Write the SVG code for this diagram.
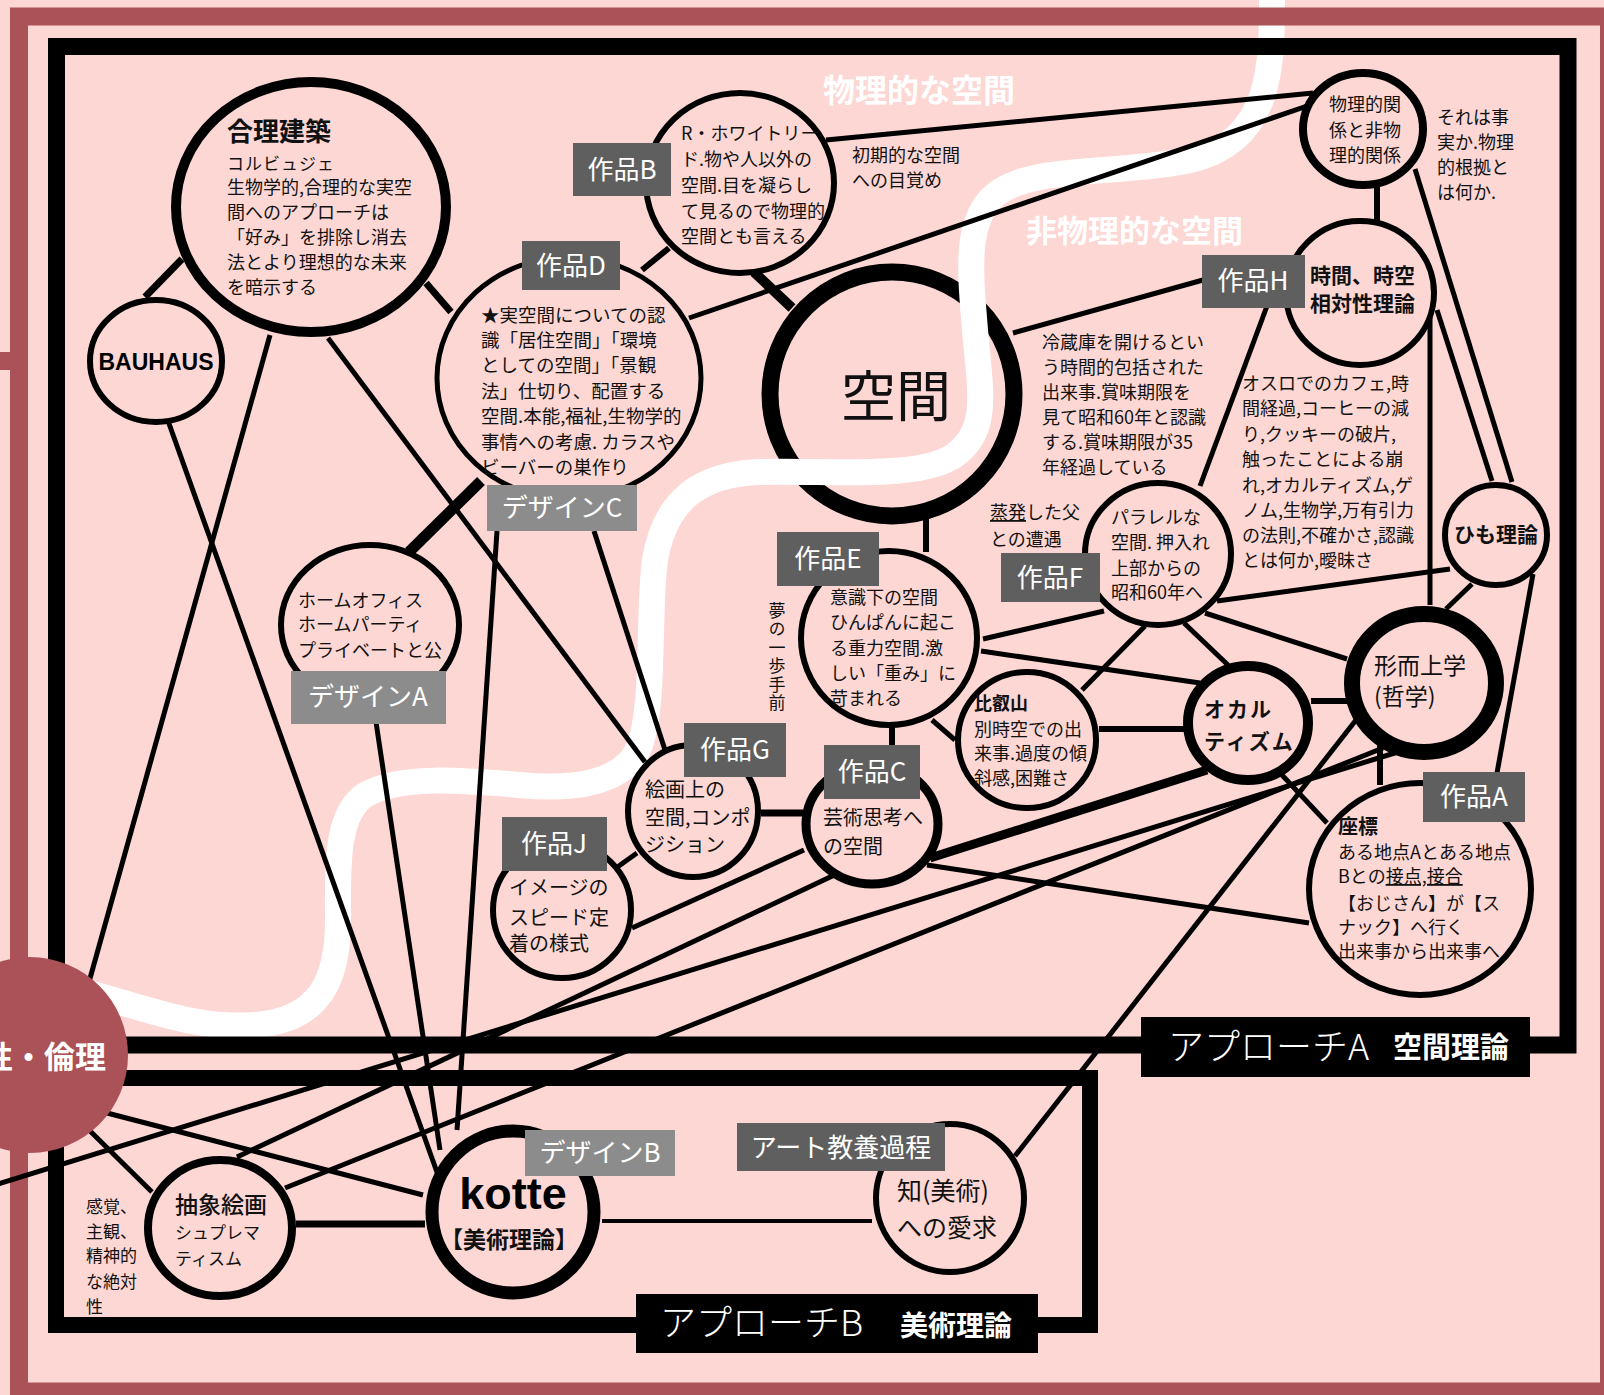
<svg xmlns="http://www.w3.org/2000/svg" width="1604" height="1395" viewBox="0 0 1604 1395">
<style>
.n{fill:#FDD7D3;stroke:#000}
.t{font-family:"Noto Sans CJK JP","Noto Sans",sans-serif;font-size:18px;fill:#111}
.b{font-weight:bold}
.lk rect{fill:#5f5f5f}
.lg rect{fill:#8c8c8c}
.lt{font-family:"Noto Sans CJK JP","Noto Sans",sans-serif;font-size:26px;fill:#fff;text-anchor:middle}
.w{font-family:"Noto Sans CJK JP",sans-serif;font-weight:bold;font-size:32px;fill:#fff}
#connectors line{stroke:#000;stroke-width:5}
.u{text-decoration:underline}
</style>
<rect width="1604" height="1395" fill="#FDD7D3"/>
<g id="n-kukan">
<circle class="n" cx="892" cy="394" r="122" stroke-width="17"/>
</g>
<path d="M1272,-10 C1272,60 1275,140 1190,160 C1120,175 1030,165 995,195 C965,220 970,270 975,330 C980,390 990,430 955,455 C920,480 830,470 760,472 C700,474 665,500 655,560 C648,610 655,700 640,745 C625,785 570,790 520,785 C460,780 400,775 365,795 C335,815 338,870 338,920 C338,980 320,1020 255,1025 C190,1030 140,1005 60,985" fill="none" stroke="#fff" stroke-width="26"/>
<rect x="19" y="16.5" width="1590" height="1375" fill="none" stroke="#AA5257" stroke-width="18"/>
<rect x="0" y="352" width="14" height="18" fill="#AA5257"/>
<rect x="56.5" y="46.5" width="1511.5" height="998.5" fill="none" stroke="#000" stroke-width="17"/>
<rect x="56" y="1078" width="1034" height="247" fill="none" stroke="#000" stroke-width="16"/>
<text class="w" x="823" y="102">物理的な空間</text>
<text class="w" x="1026" y="242" style="font-size:31px">非物理的な空間</text>
<g id="connectors">
<line x1="182" y1="259" x2="145" y2="297" style="stroke-width:7"/>
<line x1="426" y1="283" x2="451" y2="312" style="stroke-width:7"/>
<line x1="270" y1="335" x2="89" y2="982"/>
<line x1="328" y1="338" x2="645" y2="762"/>
<line x1="167" y1="418" x2="438" y2="1175"/>
<line x1="642" y1="270" x2="669" y2="248" style="stroke-width:6"/>
<line x1="689" y1="318" x2="1313" y2="104"/>
<line x1="826" y1="140" x2="1313" y2="93"/>
<line x1="754" y1="272" x2="792" y2="308" style="stroke-width:10"/>
<line x1="1013" y1="333" x2="1203" y2="280"/>
<line x1="1377" y1="186" x2="1377" y2="222" style="stroke-width:6"/>
<line x1="1415" y1="169" x2="1512" y2="482"/>
<line x1="1437" y1="310" x2="1492" y2="481"/>
<line x1="1430" y1="314" x2="1430" y2="605"/>
<line x1="1267" y1="306" x2="1200" y2="486"/>
<line x1="1450" y1="569" x2="1217" y2="601"/>
<line x1="1472" y1="584" x2="1446" y2="609"/>
<line x1="1533" y1="574" x2="1497" y2="773"/>
<line x1="1104" y1="611" x2="983" y2="639"/>
<line x1="1145" y1="626" x2="1082" y2="690"/>
<line x1="1184" y1="623" x2="1228" y2="665"/>
<line x1="1205" y1="613" x2="1347" y2="659"/>
<line x1="981" y1="651" x2="1200" y2="683"/>
<line x1="932" y1="720" x2="955" y2="740"/>
<line x1="926" y1="512" x2="926" y2="552" style="stroke-width:6"/>
<line x1="892" y1="725" x2="892" y2="748" style="stroke-width:6"/>
<line x1="1099" y1="729" x2="1185" y2="729" style="stroke-width:6"/>
<line x1="1311" y1="701" x2="1347" y2="701" style="stroke-width:6"/>
<line x1="1380" y1="741" x2="1380" y2="785" style="stroke-width:6"/>
<line x1="1282" y1="775" x2="1327" y2="823"/>
<line x1="930" y1="858" x2="1207" y2="770" style="stroke-width:9"/>
<line x1="927" y1="865" x2="1309" y2="923"/>
<line x1="804" y1="850" x2="632" y2="928"/>
<line x1="845" y1="870" x2="237" y2="1157"/>
<line x1="1398" y1="752" x2="-5" y2="1185"/>
<line x1="1383" y1="748" x2="285" y2="1188"/>
<line x1="1356" y1="720" x2="1015" y2="1156"/>
<line x1="376" y1="722" x2="440" y2="1150"/>
<line x1="497" y1="531" x2="457" y2="1130"/>
<line x1="594" y1="531" x2="665" y2="750"/>
<line x1="481" y1="481" x2="409" y2="552" style="stroke-width:11"/>
<line x1="761" y1="813" x2="803" y2="813" style="stroke-width:7"/>
<line x1="616" y1="868" x2="637" y2="853"/>
<line x1="107" y1="1113" x2="423" y2="1195"/>
<line x1="89" y1="1130" x2="152" y2="1192"/>
<line x1="296" y1="1224" x2="425" y2="1224" style="stroke-width:7"/>
<line x1="602" y1="1221" x2="872" y2="1221" style="stroke-width:4"/>
</g>
<g id="n-kukan-label">
<text class="t" x="896" y="416" style="font-size:55px;text-anchor:middle">空間</text>
</g>
<g id="n-gouri">
<ellipse class="n" cx="311" cy="207" rx="135" ry="125" stroke-width="10"/>
<text class="t b" x="227" y="141" style="font-size:26px">合理建築</text>
<text class="t" x="227" y="170"><tspan style="font-size:17px;letter-spacing:1px">コルビュジェ</tspan><tspan x="227" y="194">生物学的,合理的な実空</tspan><tspan x="227" y="219">間へのアプローチは</tspan><tspan x="227" y="244">「好み」を排除し消去</tspan><tspan x="227" y="269">法とより理想的な未来</tspan><tspan x="227" y="294">を暗示する</tspan></text>
</g>
<g id="n-bauhaus">
<ellipse class="n" cx="156" cy="361" rx="66" ry="61" stroke-width="6"/>
<text x="156" y="370" style="font-family:'Liberation Sans',Arial,sans-serif;font-weight:bold;font-size:23px;text-anchor:middle">BAUHAUS</text>
</g>
<g id="n-b">
<ellipse class="n" cx="740" cy="183" rx="94" ry="90" stroke-width="6"/>
<text class="t" x="681" y="140">R・ホワイトリー<tspan x="681" y="166">ド.物や人以外の</tspan><tspan x="681" y="192">空間.目を凝らし</tspan><tspan x="681" y="218">て見るので物理的</tspan><tspan x="681" y="243">空間とも言える</tspan></text>
<g class="lk"><rect x="573" y="143" width="98" height="53"/><text class="lt" x="622" y="179">作品B</text></g>
<text class="t" x="852" y="162">初期的な空間<tspan x="852" y="187">への目覚め</tspan></text>
</g>
<g id="n-d">
<ellipse class="n" cx="569" cy="378" rx="132" ry="121" stroke-width="5"/>
<text class="t" x="481" y="322" style="font-size:18.5px">★実空間についての認<tspan x="481" y="347">識「居住空間」「環境</tspan><tspan x="481" y="372">としての空間」「景観</tspan><tspan x="481" y="398">法」仕切り、配置する</tspan><tspan x="481" y="423">空間.本能,福祉,生物学的</tspan><tspan x="481" y="449">事情への考慮. カラスや</tspan><tspan x="481" y="474">ビーバーの巣作り</tspan></text>
<g class="lk"><rect x="522" y="241" width="98" height="49"/><text class="lt" x="571" y="275">作品D</text></g>
</g>
<g id="n-butsuri">
<ellipse class="n" cx="1363" cy="129" rx="60" ry="56" stroke-width="8"/>
<text class="t" x="1329" y="111">物理的関<tspan x="1329" y="137">係と非物</tspan><tspan x="1329" y="162">理的関係</tspan></text>
<text class="t" x="1437" y="124">それは事<tspan x="1437" y="149">実か.物理</tspan><tspan x="1437" y="174">的根拠と</tspan><tspan x="1437" y="199">は何か.</tspan></text>
</g>
<g id="n-h">
<ellipse class="n" cx="1360" cy="293" rx="74" ry="72" stroke-width="6"/>
<text class="t b" x="1310" y="283" style="font-size:21px">時間、時空<tspan x="1310" y="311">相対性理論</tspan></text>
<g class="lk"><rect x="1202" y="255" width="103" height="53"/><text class="lt" x="1253" y="290">作品H</text></g>
</g>
<g id="n-himo">
<ellipse class="n" cx="1496" cy="535" rx="51" ry="50" stroke-width="6"/>
<text class="t b" x="1496" y="542" style="font-size:21px;text-anchor:middle">ひも理論</text>
</g>
<g id="notes">
<text class="t" x="1042" y="349">冷蔵庫を開けるとい<tspan x="1042" y="374">う時間的包括された</tspan><tspan x="1042" y="399">出来事.賞味期限を</tspan><tspan x="1042" y="424">見て昭和60年と認識</tspan><tspan x="1042" y="449">する.賞味期限が35</tspan><tspan x="1042" y="474">年経過している</tspan></text>
<text class="t" x="1242" y="390">オスロでのカフェ,時<tspan x="1242" y="415">間経過,コーヒーの減</tspan><tspan x="1242" y="441">り,クッキーの破片,</tspan><tspan x="1242" y="466">触ったことによる崩</tspan><tspan x="1242" y="492">れ,オカルティズム,ゲ</tspan><tspan x="1242" y="517">ノム,生物学,万有引力</tspan><tspan x="1242" y="542">の法則,不確かさ,認識</tspan><tspan x="1242" y="567">とは何か,曖昧さ</tspan></text>
<text class="t" x="990" y="519"><tspan class="u">蒸発</tspan>した父<tspan x="990" y="546">との遭遇</tspan></text>
<text class="t" x="777" y="602" style="writing-mode:vertical-rl;font-size:17px;letter-spacing:1.5px">夢の一歩手前</text>
</g>
<g id="n-f">
<ellipse class="n" cx="1158" cy="554" rx="73" ry="71" stroke-width="6"/>
<text class="t" x="1111" y="524">パラレルな<tspan x="1111" y="549">空間. 押入れ</tspan><tspan x="1111" y="575">上部からの</tspan><tspan x="1111" y="599">昭和60年へ</tspan></text>
<g class="lk"><rect x="1001" y="553" width="99" height="49"/><text class="lt" x="1050" y="587">作品F</text></g>
</g>
<g id="n-e">
<ellipse class="n" cx="889" cy="638" rx="88" ry="87" stroke-width="6"/>
<text class="t" x="830" y="604">意識下の空間<tspan x="830" y="629">ひんぱんに起こ</tspan><tspan x="830" y="655">る重力空間.激</tspan><tspan x="830" y="680">しい「重み」に</tspan><tspan x="830" y="705">苛まれる</tspan></text>
<g class="lk"><rect x="777" y="532" width="102" height="54"/><text class="lt" x="828" y="568">作品E</text></g>
</g>
<g id="n-hiei">
<ellipse class="n" cx="1027" cy="740" rx="69" ry="68" stroke-width="6"/>
<text class="t" x="974" y="710"><tspan class="b">比叡山</tspan><tspan x="974" y="736">別時空での出</tspan><tspan x="974" y="760">来事.過度の傾</tspan><tspan x="974" y="785">斜感,困難さ</tspan></text>
</g>
<g id="n-occult">
<ellipse class="n" cx="1248" cy="723" rx="60" ry="57" stroke-width="10"/>
<text class="t b" x="1204" y="717" style="font-size:21px;letter-spacing:2px">オカル<tspan x="1204" y="749">ティズム</tspan></text>
</g>
<g id="n-meta">
<ellipse class="n" cx="1424" cy="683" rx="72" ry="69" stroke-width="16"/>
<text class="t" x="1374" y="674" style="font-size:23px">形而上学<tspan x="1374" y="705">(哲学)</tspan></text>
</g>
<g id="n-a">
<ellipse class="n" cx="1420" cy="889" rx="111" ry="106" stroke-width="6"/>
<text class="t" x="1338" y="834"><tspan class="b" style="font-size:20px">座標</tspan><tspan x="1338" y="859">ある地点Aとある地点</tspan><tspan x="1338" y="883">Bとの<tspan class="u">接点,接合</tspan></tspan><tspan x="1338" y="910">【おじさん】が【ス</tspan><tspan x="1338" y="934">ナック】へ行く</tspan><tspan x="1338" y="958">出来事から出来事へ</tspan></text>
<g class="lk"><rect x="1423" y="772" width="102" height="50"/><text class="lt" x="1474" y="806">作品A</text></g>
</g>
<g id="n-c">
<ellipse class="n" cx="872" cy="824" rx="66" ry="60" stroke-width="9"/>
<text class="t" x="823" y="825" style="font-size:20px">芸術思考へ<tspan x="823" y="854">の空間</tspan></text>
<g class="lk"><rect x="824" y="745" width="96" height="54"/><text class="lt" x="872" y="781">作品C</text></g>
</g>
<g id="n-g">
<ellipse class="n" cx="693" cy="811" rx="65" ry="66" stroke-width="6"/>
<text class="t" x="645" y="797" style="font-size:20px">絵画上の<tspan x="645" y="825">空間,コンポ</tspan><tspan x="645" y="852">ジション</tspan></text>
<g class="lk"><rect x="684" y="723" width="102" height="54"/><text class="lt" x="735" y="759">作品G</text></g>
</g>
<g id="n-j">
<ellipse class="n" cx="562" cy="910" rx="69" ry="68" stroke-width="6"/>
<text class="t" x="509" y="895" style="font-size:20px">イメージの<tspan x="509" y="925">スピード定</tspan><tspan x="509" y="951">着の様式</tspan></text>
<g class="lk"><rect x="502" y="817" width="105" height="54"/><text class="lt" x="554" y="853">作品J</text></g>
</g>
<g id="n-homeoffice">
<ellipse class="n" cx="370" cy="625" rx="89" ry="80" stroke-width="6"/>
<text class="t" x="298" y="607">ホームオフィス<tspan x="298" y="631">ホームパーティ</tspan><tspan x="298" y="657">プライベートと公</tspan></text>
<g class="lg"><rect x="291" y="671" width="155" height="53"/><text class="lt" x="368" y="706">デザインA</text></g>
</g>
<g id="n-designc">
<g class="lg"><rect x="487" y="485" width="150" height="46"/><text class="lt" x="562" y="517">デザインC</text></g>
</g>
<g id="n-kotte">
<ellipse class="n" cx="513" cy="1212" rx="81" ry="81" stroke-width="13"/>
<text x="513" y="1209" style="font-family:'Liberation Sans',Arial,sans-serif;font-weight:bold;font-size:45px;text-anchor:middle">kotte</text>
<text class="t b" x="509" y="1248" style="font-size:23px;text-anchor:middle">【美術理論】</text>
<g class="lg"><rect x="525" y="1130" width="150" height="46"/><text class="lt" x="600" y="1162">デザインB</text></g>
</g>
<g id="n-abstract">
<ellipse class="n" cx="220" cy="1228" rx="72" ry="68" stroke-width="8"/>
<text class="t" x="175" y="1213" style="font-size:23px;font-weight:500">抽象絵画</text>
<text class="t" x="175" y="1239" style="font-size:17px">シュプレマ<tspan x="175" y="1265">ティスム</tspan></text>
<text class="t" x="86" y="1213" style="font-size:17px">感覚、<tspan x="86" y="1238">主観、</tspan><tspan x="86" y="1262">精神的</tspan><tspan x="86" y="1288">な絶対</tspan><tspan x="86" y="1313">性</tspan></text>
</g>
<g id="n-chi">
<ellipse class="n" cx="950" cy="1198" rx="74" ry="74" stroke-width="6"/>
<text class="t" x="897" y="1200" style="font-size:25px">知(美術)<tspan x="897" y="1237">への愛求</tspan></text>
<g class="lk"><rect x="737" y="1123" width="208" height="48"/><text class="lt" x="841" y="1157">アート教養過程</text></g>
</g>
<g id="n-ethics">
<circle cx="30" cy="1055" r="98" fill="#AA5257"/>
<text x="106" y="1068" style="font-family:'Noto Sans CJK JP',sans-serif;font-weight:bold;font-size:31px;fill:#fff;text-anchor:end">性・倫理</text>
</g>
<g id="frame-labels">
<rect x="1141" y="1017" width="389" height="60" fill="#000"/>
<text x="1168" y="1060" style="font-family:'Noto Sans CJK JP',sans-serif;font-weight:300;font-size:36px;fill:#fff">アプローチA</text>
<text x="1393" y="1058" style="font-family:'Noto Sans CJK JP',sans-serif;font-weight:bold;font-size:29px;fill:#fff">空間理論</text>
<rect x="636" y="1294" width="402" height="59" fill="#000"/>
<text x="660" y="1336" style="font-family:'Noto Sans CJK JP',sans-serif;font-weight:300;font-size:36px;fill:#fff">アプローチB</text>
<text x="900" y="1336" style="font-family:'Noto Sans CJK JP',sans-serif;font-weight:bold;font-size:28px;fill:#fff">美術理論</text>
</g>
</svg>
